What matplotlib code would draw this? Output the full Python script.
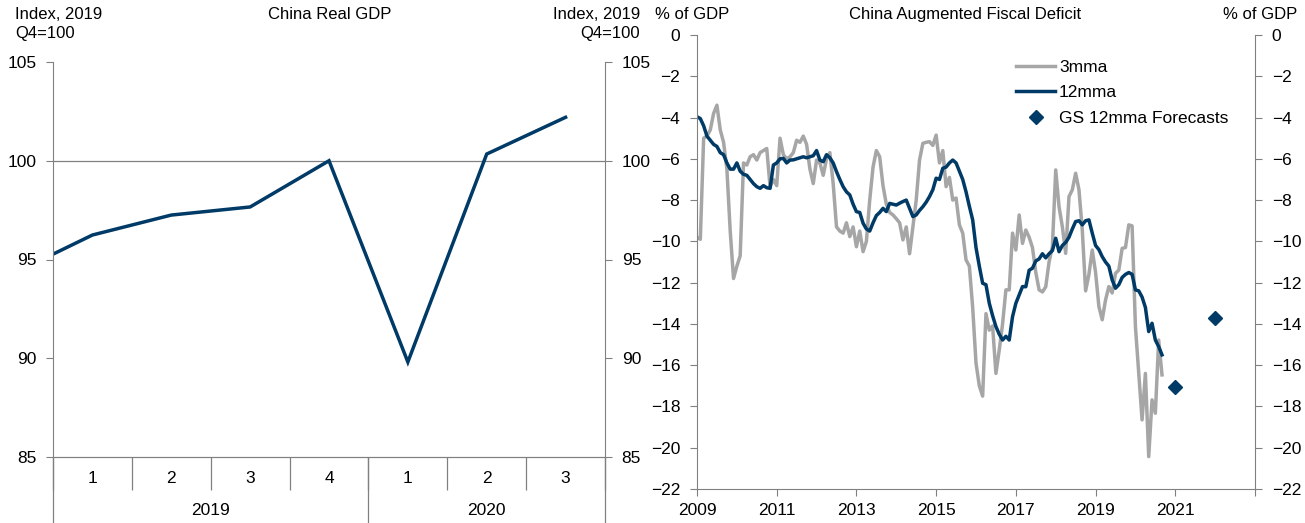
import numpy as np
import matplotlib
matplotlib.use('Agg')
import matplotlib.pyplot as plt

plt.rcParams['font.family'] = ['Liberation Sans', 'DejaVu Sans']
plt.rcParams['font.size'] = 12

BLUE = '#003A66'
GREY = '#A6A6A6'
AXC = '#808080'

# --- left: China Real GDP (index, 2019Q4=100)
quarters = ['1', '2', '3', '4', '1', '2', '3']
years = ['2019', '2020']
year_span = [4, 3]
gdp_prev = 94.3  # 2018Q4, only seen as the clipped start of the line
gdp = [96.24, 97.25, 97.66, 100.0, 89.81, 100.34, 102.2]

# --- right: augmented fiscal deficit, monthly from Jan 2009
deficit_3mma = [
    -9.8, -9.9, -5.0, -4.9, -4.6, -3.8, -3.4, -4.6, -5.2, -6.5,
    -9.5, -11.8, -11.2, -10.7, -6.2, -6.3, -5.9, -5.8, -6.06, -5.7,
    -5.6, -5.5, -7.35, -7.0, -7.3, -5.0, -5.8, -6.0, -5.9, -5.7,
    -5.1, -5.2, -4.9, -5.3, -6.5, -7.2, -6.06, -6.2, -6.8, -6.0,
    -5.7, -7.2, -9.3, -9.5, -9.6, -9.1, -9.77, -9.3, -10.26, -9.5,
    -10.5, -10.0, -8.0, -6.4, -5.6, -5.9, -7.3, -8.2, -8.6, -8.72,
    -8.9, -9.1, -9.93, -9.3, -10.6, -9.3, -8.0, -6.06, -5.25, -5.2,
    -5.17, -5.35, -4.85, -6.2, -5.6, -7.35, -6.9, -8.0, -7.9, -9.2,
    -9.6, -10.9, -11.2, -13.2, -15.9, -17.0, -17.5, -13.5, -14.3, -14.1,
    -16.4, -15.26, -14.0, -12.35, -12.35, -9.6, -10.42, -8.72, -10.1, -9.45,
    -9.8, -10.3, -11.5, -12.35, -12.45, -12.2, -11.0, -10.26, -6.54, -8.32,
    -9.29, -10.58, -7.83, -7.5, -6.7, -7.5, -9.45, -12.4, -11.6, -10.42,
    -11.5, -13.16, -13.8, -12.84, -12.19, -12.5, -11.55, -11.39, -10.34, -10.3,
    -9.2, -9.25, -14.13, -16.4, -18.65, -16.4, -20.43, -17.68, -18.33, -14.78,
    -16.47,
]
deficit_12mma = [
    -3.96, -4.05, -4.4, -4.9, -5.1, -5.3, -5.4, -5.7, -5.8, -6.2,
    -6.5, -6.5, -6.2, -6.6, -6.75, -6.8, -7.0, -7.2, -7.35, -7.43,
    -7.3, -7.4, -7.43, -6.3, -6.2, -6.0, -5.98, -6.2, -6.06, -6.05,
    -6.0, -5.95, -5.9, -5.95, -5.9, -5.85, -5.6, -6.06, -6.14, -5.8,
    -5.95, -6.2, -6.62, -7.0, -7.35, -7.6, -7.75, -8.2, -8.56, -8.6,
    -9.12, -9.4, -9.5, -9.1, -8.75, -8.6, -8.4, -8.56, -8.16, -8.2,
    -8.24, -8.15, -8.07, -8.0, -8.4, -8.8, -8.72, -8.5, -8.32, -8.1,
    -7.83, -7.5, -6.94, -7.0, -6.46, -6.4, -6.2, -6.06, -6.2, -6.6,
    -7.0, -7.6, -8.3, -8.96, -10.3, -11.2, -12.03, -12.1, -13.0, -13.6,
    -14.13, -14.5, -14.78, -14.6, -14.78, -13.65, -13.0, -12.6, -12.19, -12.2,
    -11.4, -11.3, -10.95, -10.85, -10.6, -10.8, -10.6, -10.45, -9.85, -10.5,
    -10.2, -10.05, -9.8, -9.4, -9.04, -9.0, -9.2, -9.0, -8.96, -9.6,
    -10.2, -10.4, -10.74, -11.0, -11.2, -11.87, -12.27, -12.1, -11.75, -11.6,
    -11.51, -11.6, -12.35, -12.4, -12.7, -13.2, -14.37, -13.97, -14.78, -15.1,
    -15.5,
]
forecast_years = [2021.0, 2022.0]
forecast_vals = [-17.05, -13.7]

fig = plt.figure(figsize=(13.05, 5.23), dpi=100)

# ================= left panel
ax1 = fig.add_axes([53 / 1305, 1 - 457 / 523, 552 / 1305, 395 / 523])
xq = np.arange(len(gdp))
ax1.plot(np.r_[-1, xq], [gdp_prev] + gdp, color=BLUE, lw=2.5, solid_joinstyle='miter')
ax1.axhline(100, color=AXC, lw=0.9, zorder=0)
ax1.set_xlim(-0.5, len(gdp) - 0.5)
ax1.set_ylim(85, 105)
ax1.set_yticks([85, 90, 95, 100, 105])
ax1.tick_params(axis='y', which='both', left=True, right=True, labelleft=True, labelright=True,
                direction='out', length=5, color=AXC, pad=7, labelsize=12.5)
for s in ['left', 'right', 'bottom']:
    ax1.spines[s].set_color(AXC)
ax1.spines['top'].set_visible(False)

# category axis: quarter row and year row
bounds = np.arange(len(gdp) + 1) - 0.5
ax1.set_xticks(bounds)
ax1.set_xticklabels([])
ax1.set_xticks(xq, minor=True)
ax1.set_xticklabels(quarters, minor=True)
ax1.tick_params(axis='x', which='major', direction='out', length=24, color=AXC, width=0.9)
ax1.tick_params(axis='x', which='minor', length=0, pad=10, labelsize=12.5)

sec = ax1.secondary_xaxis('bottom')
edges = np.r_[0, np.cumsum(year_span)] - 0.5
sec.set_xticks(edges)
sec.set_xticklabels([])
sec.set_xticks((edges[:-1] + edges[1:]) / 2, minor=True)
sec.set_xticklabels(years, minor=True)
sec.tick_params(axis='x', which='major', direction='out', length=48, color=AXC, width=0.9)
sec.tick_params(axis='x', which='minor', length=0, pad=33, labelsize=12.5)
sec.spines['bottom'].set_color(AXC)

fig.text(15 / 1305, 1 - 7 / 523, 'Index, 2019\nQ4=100', ha='left', va='top', linespacing=1.3)
fig.text(640 / 1305, 1 - 7 / 523, 'Index, 2019\nQ4=100', ha='right', va='top', linespacing=1.3)
fig.text(330 / 1305, 1 - 7 / 523, 'China Real GDP', ha='center', va='top')

# ================= right panel
ax2 = fig.add_axes([697 / 1305, 1 - 489 / 523, 558 / 1305, 454 / 523])
t = 2009 + np.arange(len(deficit_3mma)) / 12
ax2.plot(t, deficit_3mma, color=GREY, lw=2.5, label='3mma')
ax2.plot(t, deficit_12mma, color=BLUE, lw=2.5, label='12mma')
ax2.plot(forecast_years, forecast_vals, ls='none', marker='D', ms=7.5, color=BLUE,
         label='GS 12mma Forecasts')
ax2.set_xlim(2009, 2023)
ax2.set_ylim(-22, 0)
ax2.set_yticks(range(-22, 1, 2))
ax2.set_xticks(range(2009, 2024, 2))
ax2.set_xticklabels([str(y) for y in range(2009, 2022, 2)] + [''])
ax2.tick_params(axis='y', left=True, right=True, labelleft=True, labelright=True,
                direction='out', length=5, color=AXC, pad=7, labelsize=12.5)
ax2.tick_params(axis='x', direction='out', length=5, color=AXC, pad=5, labelsize=12.5)
for s in ['left', 'right', 'bottom']:
    ax2.spines[s].set_color(AXC)
ax2.spines['top'].set_visible(False)
ax2.legend(loc='upper left', bbox_to_anchor=(0.56, 0.96), frameon=False, fontsize=12.5,
           handlelength=2.2, handletextpad=0.25, labelspacing=0.58, borderaxespad=0)

fig.text(655 / 1305, 1 - 7 / 523, '% of GDP', ha='left', va='top')
fig.text(1297 / 1305, 1 - 7 / 523, '% of GDP', ha='right', va='top')
fig.text(965 / 1305, 1 - 7 / 523, 'China Augmented Fiscal Deficit', ha='center', va='top')

fig.savefig('out.png', dpi=100)
